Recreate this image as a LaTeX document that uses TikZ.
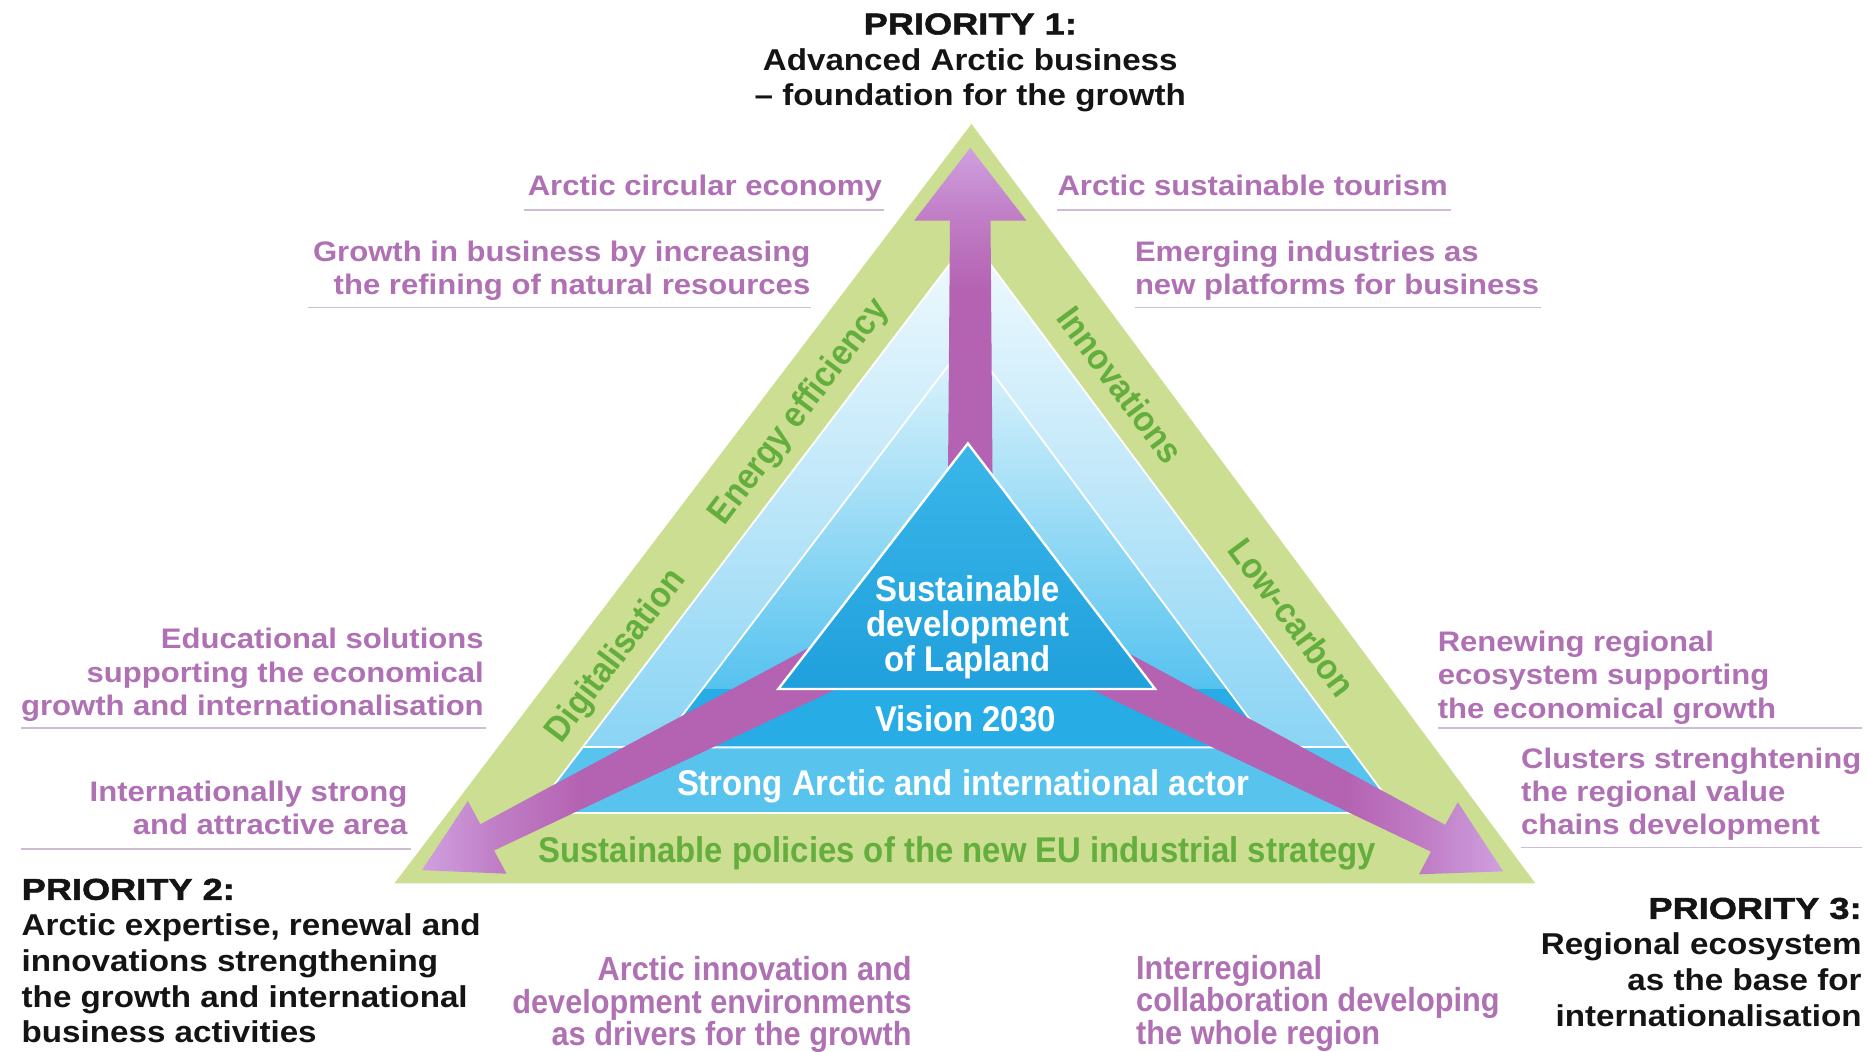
\documentclass[tikz,border=0pt]{standalone}
\usepackage{fontspec}
\setmainfont{Liberation Sans}
\newfontfamily\wf[FakeStretch=1.1]{Liberation Sans}
\newfontfamily\nf[FakeStretch=0.92]{Liberation Sans}
\newfontfamily\hf[UprightFont={* Bold},FakeStretch=1.2,FakeBold=1.6]{Liberation Sans}
\definecolor{gfill}{RGB}{203,222,145}
\definecolor{gtext}{RGB}{100,174,62}
\definecolor{ptext}{RGB}{176,112,180}
\definecolor{ulinec}{RGB}{205,188,212}
\definecolor{adark}{RGB}{180,98,178}
\definecolor{amid}{RGB}{192,126,198}
\definecolor{alight}{RGB}{208,160,224}
\definecolor{tonetop}{RGB}{242,250,254}
\definecolor{tonebot}{RGB}{125,207,243}
\definecolor{ttwotop}{RGB}{226,245,252}
\definecolor{ttwobot}{RGB}{62,186,237}
\definecolor{strongc}{RGB}{88,196,238}
\definecolor{visionc}{RGB}{40,172,230}
\definecolor{tthreetop}{RGB}{58,182,233}
\definecolor{tthreebot}{RGB}{32,160,220}
\definecolor{darktext}{RGB}{20,20,20}
\pgfdeclarehorizontalshading{arrshade}{100bp}{color(0bp)=(alight); color(25bp)=(alight); color(34bp)=(amid); color(44bp)=(adark); color(100bp)=(adark)}
\begin{document}
\begin{tikzpicture}[x=1pt,y=-1pt,
  ptxt/.style={text=ptext, font=\wf\bfseries\fontsize{23.7}{28}\selectfont, inner sep=0pt},
  ntxt/.style={text=ptext, font=\nf\bfseries\fontsize{28}{27.5}\selectfont, inner sep=0pt},
  btxt/.style={text=darktext, font=\wf\bfseries\fontsize{25.3}{30}\selectfont, inner sep=0pt},
  wtxt/.style={text=white, font=\nf\bfseries\fontsize{30}{29}\selectfont, inner sep=0pt},
  gtxt/.style={text=gtext, font=\nf\bfseries\fontsize{30}{30}\selectfont, inner sep=0pt, text height=21pt, text depth=0pt},
  uline/.style={draw=ulinec, line width=1.6pt},
  wline/.style={draw=white, line width=1.5pt}
]
\path[use as bounding box, fill=white] (0,0) rectangle (1568,882);
% outer green triangle
\coordinate (GA) at (815,104);
\coordinate (GB) at (331,741);
\coordinate (GC) at (1288,741);
\fill[gfill] (GA) -- (GB) -- (GC) -- cycle;
% T1
\coordinate (TA) at (814,199);
\coordinate (TB) at (447,682);
\coordinate (TC) at (1173,682);
\path[top color=tonetop, bottom color=tonebot] (TA) -- (TB) -- (TC) -- cycle;
% strong band
\fill[strongc] (488.8,627) -- (TB) -- (TC) -- (1132.1,627) -- cycle;
\draw[wline] (TA) -- (TB) -- (TC) -- cycle;
\draw[wline] (488.8,627) -- (1132.1,627);
% T2
\coordinate (UA) at (812,285);
\coordinate (UB) at (552,627);
\coordinate (UC) at (1066,627);
\path[top color=ttwotop, bottom color=ttwobot] (UA) -- (UB) -- (UC) -- cycle;
\fill[visionc] (589.4,578) -- (UB) -- (UC) -- (1029.6,578) -- cycle;
\draw[wline] (UA) -- (UB) -- (UC) -- cycle;
% arrows
\path[shading=arrshade, shading angle=-90] (814,124) -- (861,185) -- (831,185) -- (833,440) -- (795,440) -- (797,185) -- (767,185) -- cycle;
\path[shading=arrshade] (354,730) -- (425,733) -- (414.5,713.5) -- (704,577) -- (685,540) -- (403,691.5) -- (392.5,672) -- cycle;
\path[shading=arrshade, shading angle=180] (1261,731) -- (1190.5,733.5) -- (1200.5,714.5) -- (911.5,576.5) -- (931,539.5) -- (1212.5,692) -- (1223,673) -- cycle;
% T3
\path[top color=tthreetop, bottom color=tthreebot, draw=white, line width=2pt] (812,372) -- (653,578) -- (969,578) -- cycle;

% white texts
\node[wtxt, align=center, anchor=north] (sd) at (812,483) {Sustainable\\development\\of Lapland};
\node[wtxt, text height=21pt, text depth=0pt] (vis) at (810,603) {Vision 2030};
\node[wtxt, text height=21pt, text depth=0pt] (sa) at (808,657) {Strong Arctic and international actor};
% green texts
\node[gtxt, rotate=52.77] (ee) at (669,344) {Energy efficiency};
\node[gtxt, rotate=52.77] (dg) at (515,549) {Digitalisation};
\node[gtxt, rotate=-53.4] (inn) at (940,323) {Innovations};
\node[gtxt, rotate=-53.4] (lc) at (1084,518) {Low-carbon};
\node[gtxt] (sp) at (803,713) {Sustainable policies of the new EU industrial strategy};

% priorities
\node[btxt, anchor=north, align=center] (p1) at (814,11) {{\hf PRIORITY 1:}\\Advanced Arctic business\\– foundation for the growth};
\node[btxt, anchor=north west, align=left] (p2) at (18,737) {{\hf PRIORITY 2:}\\Arctic expertise, renewal and\\innovations strengthening\\the growth and international\\business activities};
\node[btxt, anchor=north east, align=right] (p3) at (1562,753) {{\hf PRIORITY 3:}\\Regional ecosystem\\as the base for\\internationalisation};

% purple texts
\node[ptxt, anchor=north east, align=right] (ace) at (740,147) {Arctic circular economy};
\draw[uline] (440,176) -- (742,176);
\node[ptxt, anchor=north east, align=right] (gib) at (680,202) {Growth in business by increasing\\the refining of natural resources};
\draw[uline] (258,258) -- (680,258);
\node[ptxt, anchor=north west, align=left] (ast) at (887,147) {Arctic sustainable tourism};
\draw[uline] (887,176) -- (1217,176);
\node[ptxt, anchor=north west, align=left] (emi) at (952,202) {Emerging industries as\\new platforms for business};
\draw[uline] (952,258) -- (1293,258);
\node[ptxt, anchor=north east, align=right] (edu) at (406,527) {Educational solutions\\supporting the economical\\growth and internationalisation};
\draw[uline] (18,611) -- (408,611);
\node[ptxt, anchor=north east, align=right] (ins) at (342,655) {Internationally strong\\and attractive area};
\draw[uline] (18,712) -- (345,712);
\node[ptxt, anchor=north west, align=left] (ren) at (1206,529) {Renewing regional\\ecosystem supporting\\the economical growth};
\draw[uline] (1206,611) -- (1562,611);
\node[ptxt, anchor=north west, align=left] (clu) at (1276,627) {Clusters strenghtening\\the regional value\\chains development};
\draw[uline] (1276,711) -- (1562,711);
\node[ntxt, anchor=north east, align=right] (aid) at (765,802) {Arctic innovation and\\development environments\\as drivers for the growth};
\node[ntxt, anchor=north west, align=left] (irc) at (953,801) {Interregional\\collaboration developing\\the whole region};
\end{tikzpicture}
\end{document}
